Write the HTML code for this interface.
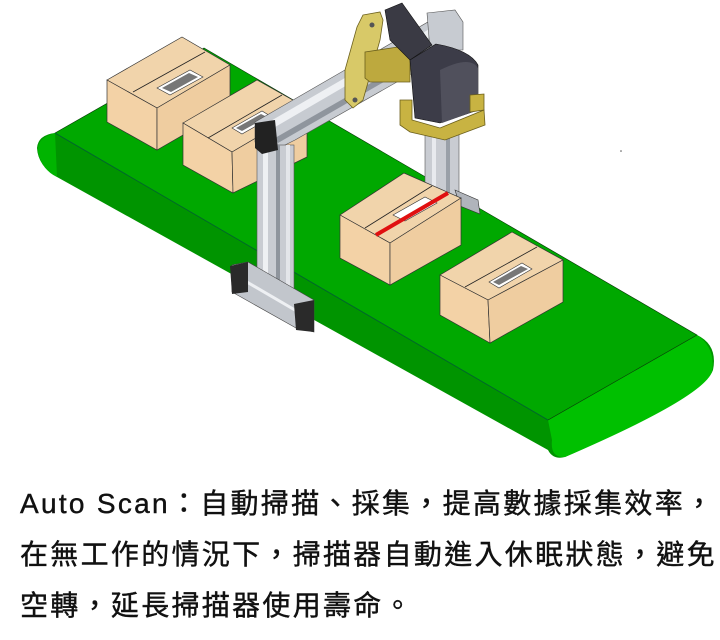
<!DOCTYPE html>
<html><head><meta charset="utf-8"><style>
html,body{margin:0;padding:0;background:#fff;}
body{width:720px;height:640px;position:relative;overflow:hidden;}
.t{position:absolute;left:20px;font-family:"Liberation Sans","Noto Sans CJK TC",sans-serif;font-size:28px;letter-spacing:2.3px;color:#111;white-space:nowrap;line-height:34px;-webkit-text-stroke:0.4px #111;}
</style></head><body>
<svg width="720" height="470" style="position:absolute;left:0;top:0" xmlns="http://www.w3.org/2000/svg">
<!-- belt -->
<path d="M204,48 L697,335 Q718,345 713,370 Q705,395 565,457 Q553,460 548,450 L57,177 Q38,166 37,148 Q38,135 55,133 Z" fill="#009400"/>
<path d="M548,420 L697,335 Q716,348 712,372 Q702,398 565,457 Q550,458 552,440 Z" fill="#00c000"/>
<path d="M55,133 L204,48 L697,335 L548,420 Z" fill="#00a800" stroke="#0a3a0a" stroke-width="0.6"/>
<path d="M55,133 L548,420" stroke="#063" stroke-width="0.8"/>
<path d="M55,133 Q36,138 38,152 Q42,170 57,177 Z" fill="#00b400"/>
<!-- box 1 -->
<polygon points="107,80 182,37 230,65 157,108" fill="#f1d4ab" stroke="#333" stroke-width="0.7"/>
<polygon points="107,80 157,108 157,150 107,122" fill="#f3d2a6" stroke="#333" stroke-width="0.7"/>
<polygon points="157,108 230,65 230,108 157,150" fill="#efcda0" stroke="#333" stroke-width="0.7"/>
<line x1="133" y1="92" x2="205" y2="52" stroke="#222" stroke-width="0.8"/>
<polygon points="157,88 190,70 203,77 170,95" fill="#fff" stroke="#333" stroke-width="0.6"/>
<polygon points="162,88 189,73 198,77 171,92" fill="#777"/>
<!-- box 2 -->
<polygon points="183,123 257,80 307,108 232,152" fill="#f1d4ab" stroke="#333" stroke-width="0.7"/>
<polygon points="183,123 232,152 233,193 183,165" fill="#f3d2a6" stroke="#333" stroke-width="0.7"/>
<polygon points="232,152 307,108 307,157 233,193" fill="#efcda0" stroke="#333" stroke-width="0.7"/>
<line x1="208" y1="138" x2="282" y2="95" stroke="#222" stroke-width="0.8"/>
<polygon points="232,128 262,111 272,117 242,134" fill="#fff" stroke="#333" stroke-width="0.6"/>
<polygon points="236,128 261,114 267,117 242,131" fill="#777"/>
<!-- back post -->
<rect x="425" y="130" width="34" height="75" fill="#c9ccd2" stroke="#555" stroke-width="0.6"/>
<rect x="432" y="130" width="4" height="75" fill="#e8eaee"/>
<rect x="446" y="130" width="4" height="75" fill="#9aa0a8"/>
<polygon points="455,190 478,200 480,214 460,206" fill="#b0b4bb" stroke="#333" stroke-width="0.6"/>
<!-- box 3 -->
<polygon points="340,215 404,173 461,198 390,243" fill="#f1d4ab" stroke="#333" stroke-width="0.7"/>
<polygon points="340,215 390,243 390,285 340,258" fill="#f3d2a6" stroke="#333" stroke-width="0.7"/>
<polygon points="390,243 461,198 461,245 390,285" fill="#efcda0" stroke="#333" stroke-width="0.7"/>
<line x1="365" y1="228" x2="432" y2="186" stroke="#222" stroke-width="0.8"/>
<polygon points="393,215 425,197 437,203 405,221" fill="#fff" stroke="#333" stroke-width="0.6"/>
<line x1="376" y1="235" x2="448" y2="193" stroke="#e01010" stroke-width="4"/>
<!-- box 4 -->
<polygon points="440,275 512,232 563,260 488,300" fill="#f1d4ab" stroke="#333" stroke-width="0.7"/>
<polygon points="440,275 488,300 490,343 440,315" fill="#f3d2a6" stroke="#333" stroke-width="0.7"/>
<polygon points="488,300 563,260 563,302 490,343" fill="#efcda0" stroke="#333" stroke-width="0.7"/>
<line x1="465" y1="287" x2="537" y2="247" stroke="#222" stroke-width="0.8"/>
<polygon points="489,282 522,263 532,269 499,288" fill="#fff" stroke="#333" stroke-width="0.6"/>
<polygon points="493,282 521,266 528,269 499,285" fill="#777"/>
<!-- crossbeam -->
<polygon points="255,122 440,15 462,24 462,45 295,140 275,150 255,142" fill="#c7cbd1" stroke="#555" stroke-width="0.6"/>
<polygon points="262,126 445,20 452,24 270,130" fill="#eef0f3"/>
<polygon points="275,138 458,33 460,38 278,143" fill="#8f959d"/>
<!-- front post -->
<rect x="257" y="145" width="37" height="160" fill="#c9ccd2" stroke="#555" stroke-width="0.6"/>
<rect x="263" y="145" width="5" height="160" fill="#eef0f3"/>
<rect x="276" y="145" width="4" height="160" fill="#8f959d"/>
<rect x="286" y="145" width="4" height="160" fill="#e4e6ea"/>
<polygon points="255,123 275,120 278,150 262,154 255,148" fill="#222"/>
<!-- base -->
<polygon points="232,265 248,262 314,300 314,332 296,328 232,292" fill="#c2c6cc" stroke="#444" stroke-width="0.6"/>
<line x1="240" y1="278" x2="300" y2="313" stroke="#eef0f3" stroke-width="3"/>
<polygon points="230,266 248,262 248,292 232,294" fill="#2a2a2a"/>
<polygon points="294,304 314,300 314,332 296,330" fill="#2a2a2a"/>
<!-- scanner -->
<polygon points="427,13 455,10 463,22 463,50 430,50" fill="#c7cbd1" stroke="#555" stroke-width="0.6"/>
<polygon points="363,15 380,12 383,20 380,40 363,100 353,108 345,100 345,70 357,27" fill="#d8c968" stroke="#6b5f1c" stroke-width="0.8"/>
<circle cx="372" cy="25" r="2.5" fill="#555"/><circle cx="355" cy="100" r="2.5" fill="#555"/>
<polygon points="365,52 398,47 410,52 410,82 370,82 365,78" fill="#bda93e" stroke="#6b5f1c" stroke-width="0.8"/>
<polygon points="385,10 402,3 432,45 410,60 390,40" fill="#3a3a44" stroke="#111" stroke-width="0.6"/>
<path d="M410,60 L436,44 Q470,50 478,65 L478,110 L440,123 L415,118 Z" fill="#3c3c48" stroke="#111" stroke-width="0.6"/>
<path d="M440,70 Q470,55 478,68 L478,110 L442,123 Z" fill="#50505c"/>
<polygon points="400,100 412,100 412,120 440,128 484,110 485,125 445,140 410,132 400,125" fill="#c8b342" stroke="#6b5f1c" stroke-width="0.8"/>
<polygon points="470,95 484,94 484,110 470,112" fill="#c8b342" stroke="#6b5f1c" stroke-width="0.8"/>
<circle cx="621" cy="151" r="0.8" fill="#555"/>
</svg>
<div class="t" style="top:487px">Auto Scan：自動掃描、採集，提高數據採集效率，</div>
<div class="t" style="top:538px">在無工作的情況下，掃描器自動進入休眠狀態，避免</div>
<div class="t" style="top:589px">空轉，延長掃描器使用壽命。</div>
</body></html>
